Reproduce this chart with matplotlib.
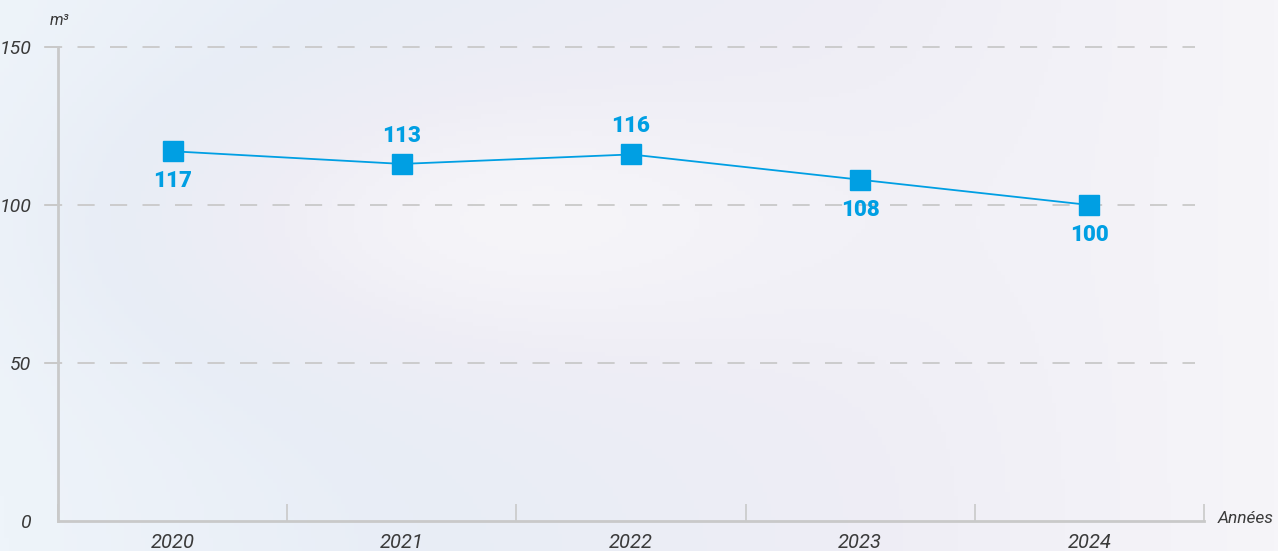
import numpy as np
import matplotlib.pyplot as plt
from matplotlib.colors import LinearSegmentedColormap

# --- DATA ---
years = ["2020", "2021", "2022", "2023", "2024"]
volumes = [117, 113, 116, 108, 100]
label_side = ["below", "above", "above", "below", "below"]
y_ticks = [0, 50, 100, 150]

BLUE = "#009fe3"
GRAY = "#c9c9c9"
TEXT = "#3a3a3a"

plt.rcParams['font.family'] = ['Roboto', 'DejaVu Sans']

fig = plt.figure(figsize=(12.78, 5.51), dpi=100)

# soft background
bg = fig.add_axes([0, 0, 1, 1], zorder=-1)
gx, gy = np.meshgrid(np.linspace(0, 1, 300), np.linspace(0, 1, 130))
field = 0.5 * gx + 0.3 * np.exp(-((gx - 0.35) ** 2 + (gy - 0.4) ** 2) / 0.08)
cmap = LinearSegmentedColormap.from_list("bg", ["#eef4fa", "#e8edf6", "#eeedf5", "#f6f5f9"])
bg.imshow(field, cmap=cmap, aspect="auto", extent=[0, 1, 0, 1])
bg.axis("off")

ax = fig.add_axes([58 / 1278, 30 / 551, 1146 / 1278, 474 / 551])
ax.patch.set_alpha(0)
x = np.arange(len(years))
ax.set_xlim(-0.5, 4.5)
ax.set_ylim(0, 150)

# dashed gridlines
for t in y_ticks[1:]:
    ax.plot([-0.0113, 0.992], [t, t], transform=ax.get_yaxis_transform(),
            color=GRAY, lw=1.3, dashes=(9.5, 8.5), clip_on=False, zorder=1)
    ax.plot([-0.0113, 0.0], [t, t], transform=ax.get_yaxis_transform(),
            color=GRAY, lw=1.3, clip_on=False, zorder=1)

ax.plot(x, volumes, color=BLUE, lw=1.3, marker="s", markersize=14,
        markerfacecolor=BLUE, markeredgecolor=BLUE, zorder=3)

for xi, v, side in zip(x, volumes, label_side):
    dy = -30 if side == "below" else 28
    ax.annotate(str(v), (xi, v), xytext=(0, dy), textcoords="offset pixels",
                ha="center", va="center", fontsize=16, fontweight="black", color=BLUE)

for s in ["top", "right"]:
    ax.spines[s].set_visible(False)
for s in ["left", "bottom"]:
    ax.spines[s].set_color(GRAY)
    ax.spines[s].set_linewidth(2)

ax.set_yticks(y_ticks)
ax.set_yticklabels([str(t) for t in y_ticks], fontsize=14, style="italic", color=TEXT)
ax.tick_params(axis="y", length=0, pad=19)

ax.set_xticks(x)
ax.set_xticklabels(years, fontsize=14.5, style="italic", color=TEXT)
ax.tick_params(axis="x", length=0, pad=9)
ax.set_xticks(np.arange(-0.5, 5, 1), minor=True)
ax.tick_params(axis="x", which="minor", direction="in", length=12, color=GRAY, width=1.2)

ax.text(-0.007, 1.055, "m³", transform=ax.transAxes, fontsize=11.5, style="italic",
        color=TEXT, ha="left", va="center")
ax.text(1.012, 0.005, "Années", transform=ax.transAxes, fontsize=12.5, style="italic",
        color=TEXT, ha="left", va="center")

fig.savefig("out.png", dpi=100)
